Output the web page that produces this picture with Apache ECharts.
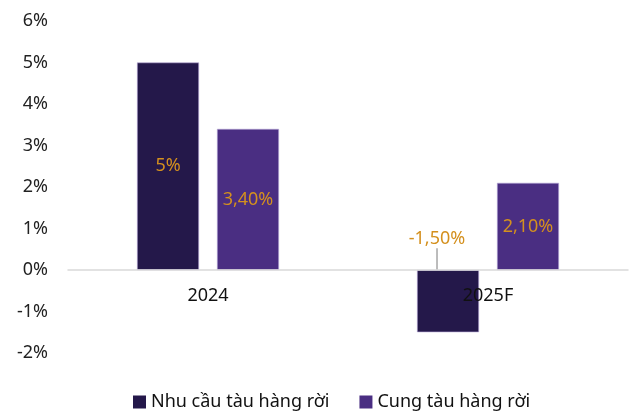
<!DOCTYPE html>
<html><head><meta charset="utf-8">
<script src="https://cdn.jsdelivr.net/npm/echarts@6/dist/echarts.min.js"></script>
<style>html,body{margin:0;padding:0;background:#fff}#c{width:630px;height:412px}</style>
</head><body><div id="c"></div>
<script>
const categories = ['2024', '2025F'];
const demand = [5, -1.5];
const supply = [3.4, 2.1];
const demandLabels = ['5%', '-1,50%'];
const supplyLabels = ['3,40%', '2,10%'];
const seriesNames = ['Nhu cầu tàu hàng rời', 'Cung tàu hàng rời'];
const yTicks = [-2, -1, 0, 1, 2, 3, 4, 5, 6];

const font = '"Noto Sans", "Open Sans", sans-serif';
const labelColor = '#d4901e';
const chart = echarts.init(document.getElementById('c'), null, {renderer: 'canvas'});
chart.setOption({
  animation: false,
  textStyle: {fontFamily: font},
  grid: {left: 68, right: 2, top: 21, bottom: 59, containLabel: false},
  legend: {
    top: 388, left: 128, itemWidth: 13, itemHeight: 13, itemGap: 30,
    icon: 'rect',
    itemStyle: {borderWidth: 0},
    textStyle: {fontSize: 18, color: '#111', fontFamily: font},
    data: seriesNames
  },
  xAxis: {
    type: 'category', data: categories, position: 'bottom', offset: -83, z: 5,
    axisLine: {onZero: false, lineStyle: {color: '#d9d9d9', width: 1.5}},
    axisTick: {show: false},
    axisLabel: {fontSize: 18, color: '#111', margin: 17, fontFamily: font}
  },
  yAxis: {
    type: 'value', min: yTicks[0], max: yTicks[yTicks.length - 1], interval: 1,
    axisLine: {show: false}, axisTick: {show: false}, splitLine: {show: false},
    axisLabel: {fontSize: 18, color: '#222', margin: 20, fontFamily: font, formatter: v => v + '%'}
  },
  series: [
    {
      name: seriesNames[0], type: 'bar', data: demand, barWidth: 62, barGap: '29%',
      itemStyle: {color: '#24184a', borderColor: '#b9a9d9', borderWidth: 0.6},
      label: {show: true, position: 'inside', color: labelColor, fontSize: 18, fontFamily: font,
        formatter: p => demandLabels[p.dataIndex]},
      labelLine: {show: true, lineStyle: {color: '#a6a6a6', width: 1.5}},
      labelLayout: p => p.dataIndex === 1 ? {dx: -11, dy: -62} : {}
    },
    {
      name: seriesNames[1], type: 'bar', data: supply, barWidth: 62,
      itemStyle: {color: '#4a2e82', borderColor: '#b9a9d9', borderWidth: 0.6},
      label: {show: true, position: 'inside', color: labelColor, fontSize: 18, fontFamily: font,
        formatter: p => supplyLabels[p.dataIndex]}
    }
  ]
});
</script></body></html>
